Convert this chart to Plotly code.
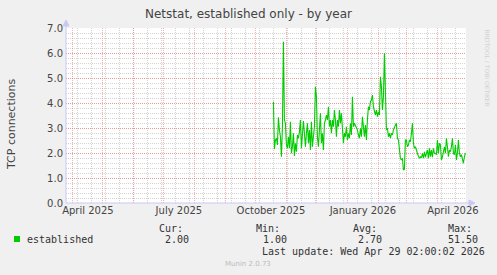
import plotly.graph_objects as go
import pandas as pd

# ---------------- data ----------------
title_text = "Netstat, established only - by year"
y_title = "TCP connections"
series_name = "established"

values = [
    4.05, 2.15, 2.52, 2.59, 2.32, 3.43, 2.92, 2.65, 1.85, 3.05,
    6.45, 3.32, 3.19, 2.32, 2.19, 2.65, 2.19, 3.25, 1.99, 2.25,
    2.79, 1.88, 2.39, 2.05, 2.72, 2.59, 2.85, 3.32, 2.19, 2.92,
    3.28, 2.79, 2.25, 2.79, 3.19, 2.39, 2.92, 2.12, 3.25, 2.25,
    2.65, 3.05, 4.65, 4.25, 2.65, 2.25, 2.92, 3.59, 2.39, 2.79,
    2.12, 3.19, 3.32, 3.52, 3.32, 3.85, 3.05, 3.32, 2.79, 3.32,
    3.05, 3.72, 3.32, 2.65, 3.32, 3.05, 3.72, 3.19, 3.59, 3.05,
    2.39, 2.79, 2.65, 3.05, 2.52, 2.79, 2.59, 3.19, 2.72, 4.25,
    3.05, 3.19, 3.12, 3.05, 2.92, 2.72, 2.59, 2.99, 2.65, 3.45,
    2.92, 2.65, 3.12, 2.52, 3.32, 3.85, 3.72, 4.05, 4.12, 4.32,
    3.85, 3.72, 3.52, 3.72, 3.45, 3.65, 3.52, 5.05, 4.65, 3.72,
    4.25, 5.99, 4.25, 2.92, 2.99, 2.65, 2.79, 2.59, 2.79, 2.72,
    2.92, 3.05, 3.12, 3.19, 2.59, 2.52, 2.12, 1.79, 1.72, 1.79,
    1.32, 1.35, 2.52, 2.52, 2.25, 2.32, 2.52, 2.45, 2.79, 3.19,
    2.39, 2.19, 2.25, 2.05, 1.99, 1.88, 1.79, 1.85, 1.81, 1.99,
    1.79, 2.05, 1.83, 1.99, 2.12, 1.79, 2.19, 1.85, 2.12, 1.83,
    2.19, 1.99, 1.99, 1.93, 2.52, 1.99, 2.39, 2.32, 1.72, 1.85,
    2.05, 2.25, 1.99, 2.59, 2.25, 1.85, 2.12, 2.05, 2.25, 2.59,
    1.99, 1.93, 2.32, 1.72, 1.99, 2.52, 1.99, 1.85, 1.93, 1.79,
    1.59, 1.85, 2.00,
]
last_point = "2026-04-28 12:00"
dates = pd.date_range(end=last_point, periods=len(values), freq="D")

x_range = ["2025-03-25 02:00", "2026-04-29 02:00"]
month_lines = pd.date_range("2025-04-01", "2026-04-01", freq="MS")
label_dates = ["2025-04-16", "2025-07-16", "2025-10-16", "2026-01-16", "2026-04-16"]
label_text = ["April 2025", "July 2025", "October 2025", "January 2026", "April 2026"]
y_ticks = [0, 1, 2, 3, 4, 5, 6, 7]

stat_headers = ["Cur:", "Min:", "Avg:", "Max:"]
stat_values = ["2.00", "1.00", "2.70", "51.50"]
last_update = "Last update: Wed Apr 29 02:00:02 2026"
footer = "Munin 2.0.73"
watermark = "RRDTOOL / TOBI OETIKER"

# ---------------- layout geometry (pixels) ----------------
W, H = 497, 275
L, R, T, B = 66, 466, 28, 203


def px(x):
    return (x - L) / (R - L)


def py(y):
    return (B - y) / (B - T)


GREEN = "#00CC00"
MAJOR = "rgba(240,110,110,0.55)"
MINOR = "rgba(170,170,170,0.5)"
AXIS = "#C8C8F4"
TXT = "#444444"
SANS = "DejaVu Sans"
MONO = "DejaVu Sans Mono"

fig = go.Figure()
fig.add_trace(go.Scatter(
    x=dates, y=values, mode="lines", name=series_name,
    line=dict(color=GREEN, width=1.1), showlegend=False, hoverinfo="skip",
))
# invisible trace to carry the label axis
fig.add_trace(go.Scatter(x=[dates[0]], y=[None], xaxis="x2", showlegend=False,
                         hoverinfo="skip"))

fig.update_layout(
    width=W, height=H,
    margin=dict(l=L, r=W - R, t=T, b=H - B),
    paper_bgcolor="#F0F0F0",
    plot_bgcolor="#FFFFFF",
    font=dict(family=SANS, size=10, color=TXT),
    xaxis=dict(
        type="date", range=x_range, tickmode="array", tickvals=month_lines,
        showticklabels=False, ticks="", showgrid=True, gridcolor=MAJOR,
        griddash="1px,1px", gridwidth=1, zeroline=False, showline=False,
        minor=dict(showgrid=True, dtick=14 * 86400000, tick0="2026-04-19",
                   gridcolor=MINOR, griddash="1px,1px", gridwidth=1),
    ),
    xaxis2=dict(
        type="date", range=x_range, overlaying="x", side="bottom",
        tickmode="array", tickvals=label_dates, ticktext=label_text,
        showgrid=False, ticks="", zeroline=False, showline=False,
        tickfont=dict(family=SANS, size=10, color=TXT),
    ),
    yaxis=dict(
        range=[0, 7], tickmode="array", tickvals=y_ticks, tickformat=".1f",
        ticks="", showgrid=True, gridcolor=MAJOR, griddash="1px,1px",
        gridwidth=1, zeroline=False, showline=False,
        minor=dict(showgrid=True, dtick=0.2, gridcolor=MINOR,
                   griddash="1px,1px", gridwidth=1),
        tickfont=dict(family=SANS, size=10, color=TXT),
        ticklabelstandoff=2,
    ),
)

# axis lines with arrows
fig.add_shape(type="line", xref="paper", yref="paper", x0=0, x1=px(471),
              y0=0, y1=0, line=dict(color=AXIS, width=1))
fig.add_shape(type="path", xref="paper", yref="paper",
              path=f"M {px(469)} {py(200)} L {px(475)} {py(203)} L {px(469)} {py(206)} Z",
              fillcolor=AXIS, line=dict(color=AXIS, width=1))
fig.add_shape(type="line", xref="paper", yref="paper", x0=0, x1=0,
              y0=0, y1=py(24), line=dict(color=AXIS, width=1))
fig.add_shape(type="path", xref="paper", yref="paper",
              path=f"M {px(63)} {py(26)} L {px(66)} {py(20)} L {px(69)} {py(26)} Z",
              fillcolor=AXIS, line=dict(color=AXIS, width=1))

ann = []
ann.append(dict(text=title_text, x=px(248), y=py(14), xref="paper", yref="paper",
                showarrow=False, xanchor="center", yanchor="middle",
                font=dict(family=SANS, size=12, color="#444444")))
ann.append(dict(text=y_title, x=px(11), y=py(124), xref="paper", yref="paper",
                showarrow=False, xanchor="center", yanchor="middle", textangle=-90,
                font=dict(family=SANS, size=11, color="#444444")))
ann.append(dict(text=watermark, x=px(487), y=py(27), xref="paper", yref="paper",
                showarrow=False, xanchor="center", yanchor="top", textangle=90,
                font=dict(family=SANS, size=6, color="#D2D2D2")))

hdr_x = [158, 255, 352, 447]
val_x = [164, 262, 357, 447]
for hx, h in zip(hdr_x, stat_headers):
    ann.append(dict(text=h, x=px(hx), y=py(228), xref="paper", yref="paper",
                    showarrow=False, xanchor="left", yanchor="middle", borderpad=0,
                    font=dict(family=MONO, size=10, color="#333333")))
for vx, v in zip(val_x, stat_values):
    ann.append(dict(text=v, x=px(vx), y=py(239), xref="paper", yref="paper",
                    showarrow=False, xanchor="left", yanchor="middle", borderpad=0,
                    font=dict(family=MONO, size=10, color="#333333")))
ann.append(dict(text=series_name, x=px(26), y=py(239), xref="paper", yref="paper",
                showarrow=False, xanchor="left", yanchor="middle", borderpad=0,
                font=dict(family=MONO, size=10, color="#333333")))
ann.append(dict(text=last_update, x=px(261), y=py(251), xref="paper", yref="paper",
                showarrow=False, xanchor="left", yanchor="middle", borderpad=0,
                font=dict(family=MONO, size=10, color="#333333")))
ann.append(dict(text=footer, x=px(248), y=py(264), xref="paper", yref="paper",
                showarrow=False, xanchor="center", yanchor="middle", borderpad=0,
                font=dict(family=SANS, size=7, color="#BBBBBB")))
fig.update_layout(annotations=ann)

fig.add_shape(type="rect", xref="paper", yref="paper",
              x0=px(14), x1=px(20), y0=py(236), y1=py(242),
              fillcolor=GREEN, line=dict(color=GREEN, width=0))

fig.write_html("out.html")
